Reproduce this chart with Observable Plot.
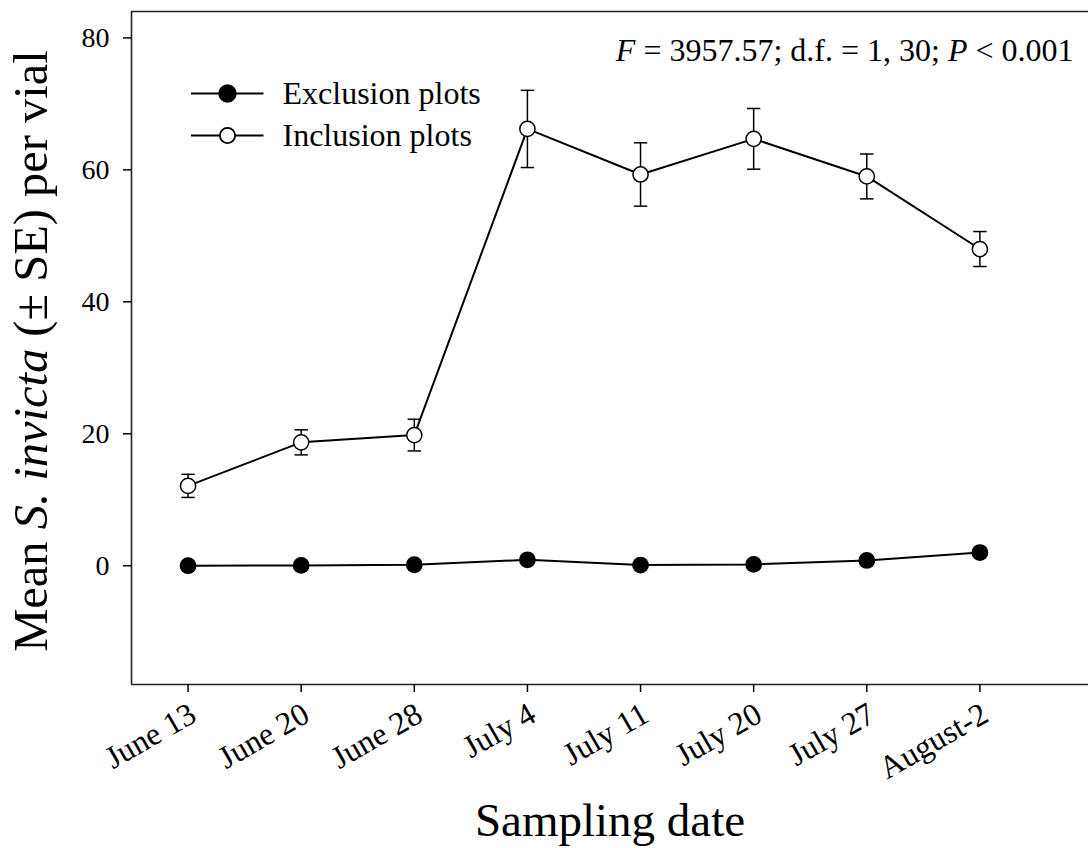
<!DOCTYPE html>
<html>
<head>
<meta charset="utf-8">
<script src="https://cdn.jsdelivr.net/npm/d3@7"></script>
<script src="https://cdn.jsdelivr.net/npm/@observablehq/plot@0.6"></script>
<style>
  html, body { margin: 0; padding: 0; background: #fff; }
  svg text { font-family: "Liberation Serif", "Times New Roman", serif; }
</style>
</head>
<body>
<div id="chart"></div>
<script>
// ---- data ----
const dates = ["June 13", "June 20", "June 28", "July 4", "July 11", "July 20", "July 27", "August-2"];
const exclusionMean = [0.0, 0.05, 0.15, 0.9, 0.1, 0.2, 0.8, 2.0];
const exclusionSE   = [0.0, 0.05, 0.1, 0.4, 0.1, 0.15, 0.3, 0.5];
const inclusionMean = [12.1, 18.7, 19.8, 66.2, 59.3, 64.7, 59.0, 48.0];
const inclusionSE   = [1.75, 1.9, 2.4, 5.85, 4.8, 4.6, 3.4, 2.65];
const yTicks = [0, 20, 40, 60, 80];
const seriesNames = ["Exclusion plots", "Inclusion plots"];
const annotation = "F = 3957.57; d.f. = 1, 30; P < 0.001";
const yTitle = "Mean S. invicta (± SE) per vial";
const xTitle = "Sampling date";

// ---- build rows ----
const excl = dates.map((d, i) => ({i, date: d, mean: exclusionMean[i], se: exclusionSE[i]}));
const incl = dates.map((d, i) => ({i, date: d, mean: inclusionMean[i], se: inclusionSE[i]}));
const all = excl.concat(incl);

// custom symbols
const capSymbol = { draw(ctx) { ctx.moveTo(-6.7, 0); ctx.lineTo(6.7, 0); } };
function legendSymbol(r) {
  return { draw(ctx) {
    ctx.moveTo(-36.5, 0); ctx.lineTo(-r, 0);
    ctx.moveTo(r, 0); ctx.lineTo(36, 0);
    ctx.moveTo(r, 0); ctx.arc(0, 0, r, 0, 2 * Math.PI);
  } };
}

const font = "Liberation Serif";

const plot = Plot.plot({
  width: 1088,
  height: 848,
  marginLeft: 131,
  marginRight: 0,
  marginTop: 11,
  marginBottom: 164,
  style: { fontFamily: font, color: "#000", background: "#fff" },
  x: { type: "linear", domain: [-0.5, 7.96], axis: null },
  y: { domain: [-18, 84], axis: null },
  marks: [
    // frame (left, top, bottom)
    Plot.ruleY([-18, 84], { stroke: "#222", strokeWidth: 1.6 }),
    Plot.ruleX([-0.5], { stroke: "#222", strokeWidth: 1.6 }),
    // axes
    Plot.axisY({ ticks: yTicks, tickSize: 8, tickPadding: 14, fontSize: 28, fontFamily: font, label: null, strokeWidth: 1.5 }),
    Plot.axisX({ ticks: d3.range(dates.length), tickSize: 8, tickFormat: () => null, label: null, strokeWidth: 1.5 }),
    Plot.text(dates, { x: (d, i) => i, text: d => d, frameAnchor: "bottom", rotate: -30,
      textAnchor: "end", lineAnchor: "top", dx: -1, dy: 16, fontSize: 32, fontFamily: font }),
    // error bars
    Plot.ruleX(all, { x: "i", y1: d => d.mean - d.se, y2: d => d.mean + d.se, stroke: "#000", strokeWidth: 1.5 }),
    Plot.dot(all, { x: "i", y: d => d.mean + d.se, symbol: capSymbol, stroke: "#000", strokeWidth: 1.5 }),
    Plot.dot(all, { x: "i", y: d => d.mean - d.se, symbol: capSymbol, stroke: "#000", strokeWidth: 1.5 }),
    // lines
    Plot.line(excl, { x: "i", y: "mean", stroke: "#000", strokeWidth: 2 }),
    Plot.line(incl, { x: "i", y: "mean", stroke: "#000", strokeWidth: 2 }),
    // points
    Plot.dot(excl, { x: "i", y: "mean", r: 8.4, fill: "#000", stroke: "#000", strokeWidth: 0 }),
    Plot.dot(incl, { x: "i", y: "mean", r: 7.6, fill: "#fff", stroke: "#000", strokeWidth: 1.5 }),
    // legend
    Plot.dot([seriesNames[0]], { frameAnchor: "top-left", dx: 96, dy: 82, symbol: legendSymbol(8.3), fill: "#000", stroke: "#000", strokeWidth: 1.8 }),
    Plot.dot([seriesNames[1]], { frameAnchor: "top-left", dx: 96, dy: 124, symbol: legendSymbol(7.6), fill: "#fff", stroke: "#000", strokeWidth: 1.8 }),
    Plot.text([seriesNames[0]], { text: d => d, frameAnchor: "top-left", dx: 151, dy: 82, textAnchor: "start", lineAnchor: "middle", fontSize: 32, fontFamily: font }),
    Plot.text([seriesNames[1]], { text: d => d, frameAnchor: "top-left", dx: 151, dy: 124, textAnchor: "start", lineAnchor: "middle", fontSize: 32, fontFamily: font }),
    // annotation
    Plot.text([annotation], { text: d => d, frameAnchor: "top-right", dx: -15, dy: 39, textAnchor: "end", lineAnchor: "middle", fontSize: 32, fontFamily: font }),
    // axis titles
    Plot.text([yTitle], { text: d => d, frameAnchor: "left", rotate: -90, dx: -100, dy: 3, textAnchor: "middle", lineAnchor: "middle", fontSize: 48.5, fontFamily: font }),
    Plot.text([xTitle], { text: d => d, frameAnchor: "bottom", dy: 136, textAnchor: "middle", lineAnchor: "middle", fontSize: 47, fontFamily: font })
  ]
});

// Apply italics
const svg = d3.select(plot);
svg.selectAll("text").each(function () {
  const t = this.textContent;
  const sel = d3.select(this);
  if (t === yTitle) {
    sel.text(null);
    [["Mean ", false], ["S. invicta", true], [" (± SE) per vial", false]].forEach(([s, it]) =>
      sel.append("tspan").attr("font-style", it ? "italic" : null).text(s));
  }
  if (t === annotation) {
    sel.text(null);
    [["F", true], [" = 3957.57; d.f. = 1, 30; ", false], ["P", true], [" < 0.001", false]].forEach(([s, it]) =>
      sel.append("tspan").attr("font-style", it ? "italic" : null).text(s));
  }
});

document.getElementById("chart").appendChild(plot);
</script>
</body>
</html>
